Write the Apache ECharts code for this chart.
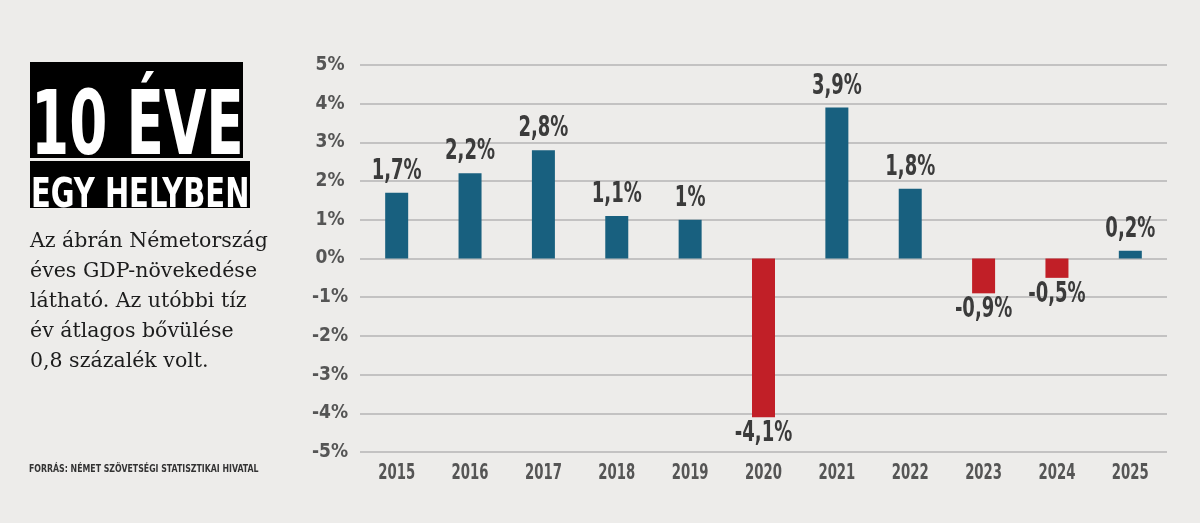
<!DOCTYPE html>
<html>
<head>
<meta charset="utf-8">
<script src="https://cdn.jsdelivr.net/npm/echarts@6/dist/echarts.min.js"></script>
<style>
  html, body { margin: 0; padding: 0; background: #edecea; }
  #chart { width: 1200px; height: 523px; }
</style>
</head>
<body>
<div id="chart"></div>
<script>
// adatok
var years = ['2015', '2016', '2017', '2018', '2019', '2020', '2021', '2022', '2023', '2024', '2025'];
var growth = [1.7, 2.2, 2.8, 1.1, 1.0, -4.1, 3.9, 1.8, -0.9, -0.5, 0.2];
var bodyLines = [
    'Az ábrán Németország',
    'éves GDP-növekedése',
    'látható. Az utóbbi tíz',
    'év átlagos bővülése',
    '0,8 százalék volt.'
];

var narrow = '"DejaVu Sans Condensed", sans-serif';
var blue = '#18607f';
var red = '#c11f27';
var yMin = -5;

var chart = echarts.init(document.getElementById('chart'));

function fmt(v) { return String(v).replace('.', ',') + '%'; }

// feliratok keskenyítve (a szerkesztőségi betű sokkal keskenyebb)
function renderLabels(params, api) {
    var i = api.value(0);
    var v = api.value(1);
    var end = api.coord([i, v]);
    var base = api.coord([i, yMin]);
    return {
        type: 'group',
        children: [{
            type: 'text',
            x: end[0],
            y: v < 0 ? end[1] + 2 : end[1] - 7,
            scaleX: 0.69,
            style: {
                text: fmt(v),
                font: 'bold 29px ' + narrow,
                fill: '#3b3b3b',
                textAlign: 'center',
                textVerticalAlign: v < 0 ? 'top' : 'bottom'
            }
        }, {
            type: 'text',
            x: base[0],
            y: base[1] + 10,
            scaleX: 0.67,
            style: {
                text: years[i],
                font: 'bold 22px ' + narrow,
                fill: '#555555',
                textAlign: 'center',
                textVerticalAlign: 'top'
            }
        }]
    };
}

var option = {
    backgroundColor: '#edecea',
    animation: false,
    grid: { left: 360, right: 33, top: 65, bottom: 71 },
    xAxis: {
        type: 'category',
        data: years,
        axisLine: { show: false, onZero: false },
        axisTick: { show: false },
        axisLabel: { show: false }
    },
    yAxis: {
        type: 'value',
        min: yMin,
        max: 5,
        interval: 1,
        axisLine: { show: false },
        axisTick: { show: false },
        splitLine: { lineStyle: { color: '#b5b5b5', width: 1.5 } },
        axisLabel: {
            margin: 30,
            align: 'center',
            fontFamily: narrow,
            fontWeight: 'bold',
            fontSize: 19,
            color: '#555555',
            formatter: function (v) { return v + '%'; }
        }
    },
    series: [{
        type: 'bar',
        data: growth.map(function (v) {
            return { value: v, itemStyle: { color: v < 0 ? red : blue } };
        }),
        barWidth: 23
    }, {
        type: 'custom',
        silent: true,
        z: 5,
        data: growth.map(function (v, i) { return [i, v]; }),
        renderItem: renderLabels
    }],
    graphic: [
        { type: 'rect', shape: { x: 30, y: 62, width: 213, height: 96 }, style: { fill: '#000' } },
        {
            type: 'text', x: 31, y: 131, scaleX: 0.685,
            style: { x: 0, y: 0, text: '10 ÉVE', fill: '#fff', font: 'bold 89px ' + narrow, textAlign: 'left', textVerticalAlign: 'middle' }
        },
        { type: 'rect', shape: { x: 30, y: 161, width: 220, height: 47 }, style: { fill: '#000' } },
        {
            type: 'text', x: 31, y: 196, scaleX: 0.785,
            style: { x: 0, y: 0, text: 'EGY HELYBEN', fill: '#fff', font: 'bold 41px ' + narrow, textAlign: 'left', textVerticalAlign: 'middle' }
        },
        {
            type: 'text', x: 30, y: 227,
            style: { x: 0, y: 0, text: bodyLines.join('\n'), fill: '#1c1c1c', font: '20.5px "DejaVu Serif", serif', lineHeight: 30, textAlign: 'left', textVerticalAlign: 'top' }
        },
        {
            type: 'text', x: 29, y: 469, scaleX: 0.87,
            style: { x: 0, y: 0, text: 'FORRÁS: NÉMET SZÖVETSÉGI STATISZTIKAI HIVATAL', fill: '#333', font: 'bold 10px ' + narrow, textAlign: 'left', textVerticalAlign: 'middle' }
        }
    ]
};

chart.setOption(option);
</script>
</body>
</html>
